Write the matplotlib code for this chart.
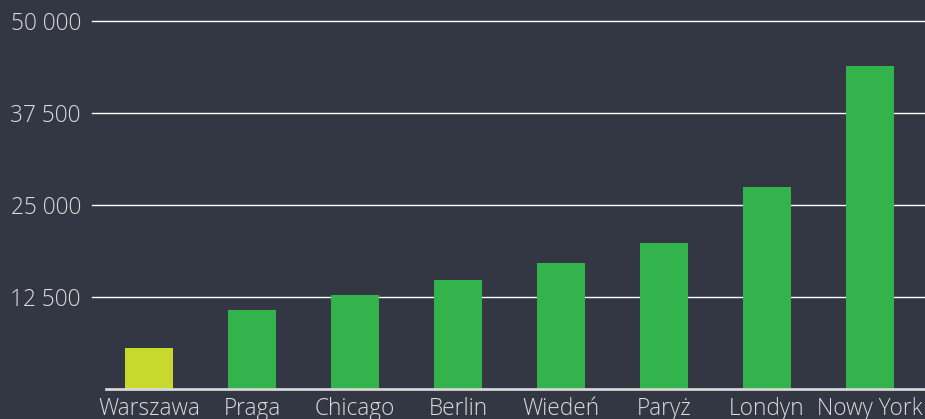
import matplotlib
matplotlib.use("Agg")
import matplotlib.pyplot as plt
import numpy as np

cities = ["Warszawa", "Praga", "Chicago", "Berlin", "Wiedeń", "Paryż", "Londyn", "Nowy York"]
values = [5570, 10730, 12770, 14800, 17100, 19850, 27450, 43900]
highlight = "Warszawa"
yticks = [12500, 25000, 37500, 50000]
ytick_labels = ["12 500", "25 000", "37 500", "50 000"]

bg = "#333743"
green = "#32b34b"
yellow = "#c8d92e"
text_color = "#dcdcdc"

plt.rcParams['font.family'] = ['Open Sans', 'DejaVu Sans']

W, H = 925, 419
fig = plt.figure(figsize=(W / 100, H / 100), dpi=100, facecolor=bg)
# axes in pixel coords: left 92, right 925, bottom 389, top 21
ax = fig.add_axes([92 / W, (H - 389) / H, (925 - 92) / W, (389 - 21) / H])
ax.set_facecolor(bg)

x = np.arange(len(cities))
colors = [yellow if c == highlight else green for c in cities]
ax.bar(x, values, width=0.466, color=colors, zorder=3)

ax.set_xlim((92 - 149) / 103, (925 - 149) / 103)
ax.set_ylim(0, 50000)

for t in yticks:
    ax.axhline(t, color="white", lw=1, zorder=1, clip_on=False)
# baseline
ax.axhline(0, xmin=(106 - 92) / (925 - 92), xmax=1, color="#d6d6d6", lw=2, zorder=4, clip_on=False)

for s in ax.spines.values():
    s.set_visible(False)

ax.set_yticks(yticks)
ax.set_yticklabels(ytick_labels)
ax.set_xticks(x)
ax.set_xticklabels(cities)
ax.tick_params(axis="both", length=0, colors=text_color, labelsize=16.3)
ax.tick_params(axis="y", pad=8)
ax.tick_params(axis="x", pad=6)
for lbl in ax.get_xticklabels() + ax.get_yticklabels():
    lbl.set_fontweight("light")

fig.savefig("out.png", dpi=100, facecolor=bg)
